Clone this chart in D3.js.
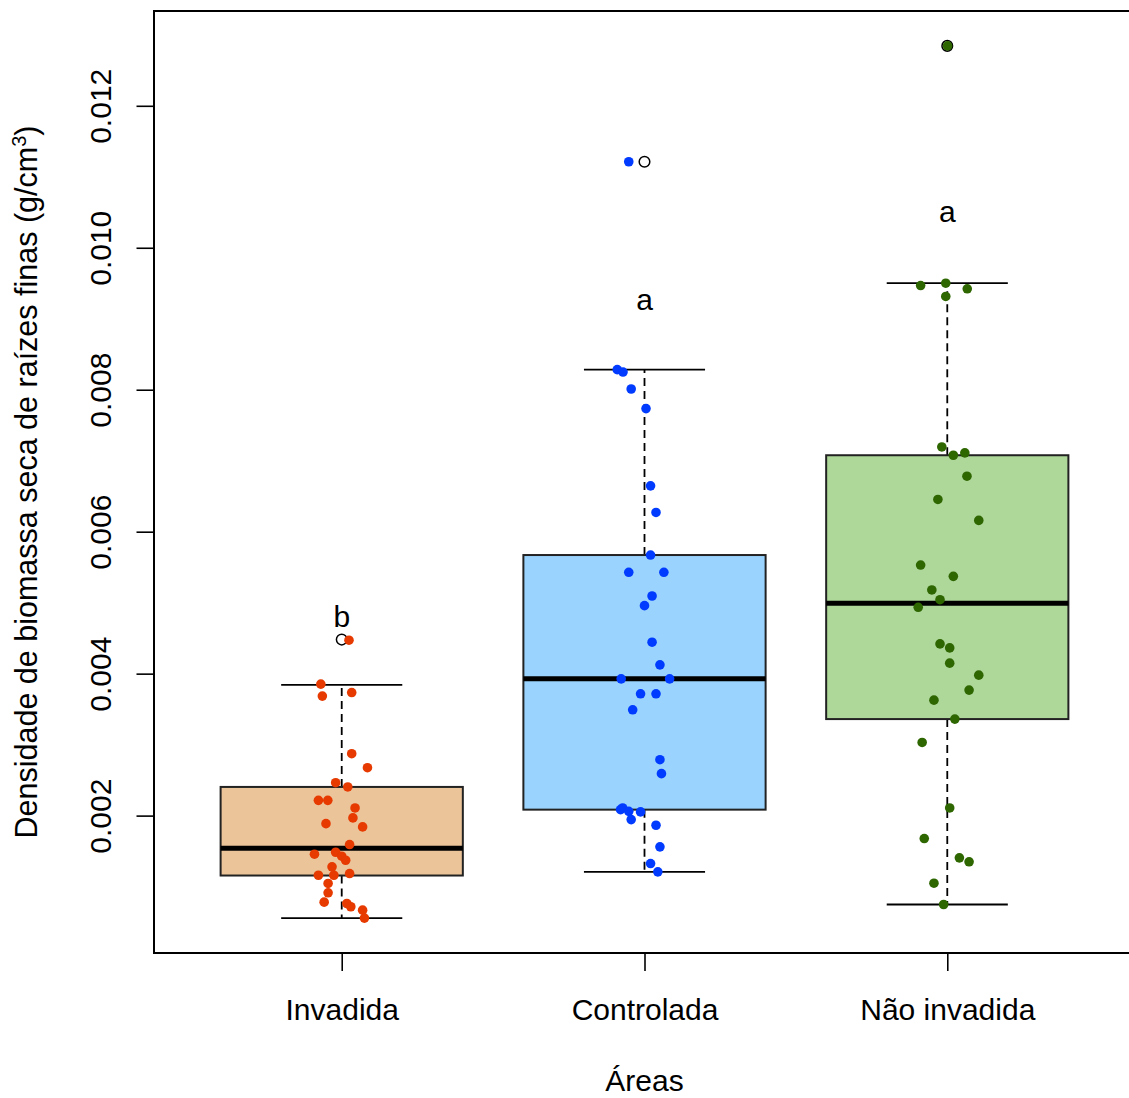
<!DOCTYPE html>
<html>
    <head>
        <meta charset="utf-8">
        <title>Densidade de biomassa seca de raízes finas</title>
        <script src="https://d3js.org/d3.v7.min.js"></script>
    </head>
    <style>
        body {
            margin: 0;
            background-color: #ffffff;
            font-family: "Liberation Sans", Arial, sans-serif;
        }
        .axis path {
            display: none;
        }
        .axis line {
            stroke: #000;
            stroke-width: 1.6px;
        }
        .axis text {
            font-size: 30px;
            fill: #000;
        }
    </style>
    <body>
        <div id="chart"></div>
    </body>
    <script>

        // Categories and labels
        var categories = ["Invadida", "Controlada", "Não invadida"];
        var letters = ["b", "a", "a"];
        var letterY = [0.00466, 0.00912, 0.01036];
        var yTicks = [0.002, 0.004, 0.006, 0.008, 0.010, 0.012];

        // Box statistics: [lower whisker, Q1, median, Q3, upper whisker]
        var boxStats = [
            [0.000556, 0.001156, 0.001540, 0.002404, 0.003842],
            [0.001208, 0.002084, 0.003927, 0.005671, 0.008283],
            [0.000748, 0.003360, 0.004992, 0.007077, 0.009501]
        ];
        var outliers = [[0.004480], [0.011212], [0.012844]];

        // Jittered raw points (value, horizontal jitter in category units)
        var invadidaValues = [0.004471, 0.003852, 0.003684, 0.003734, 0.002872, 0.002675,
            0.002464, 0.002404, 0.002215, 0.002215, 0.002108, 0.001968, 0.001887, 0.001841,
            0.001592, 0.001456, 0.001484, 0.001428, 0.001371, 0.001278, 0.001160, 0.001160,
            0.001184, 0.001044, 0.000913, 0.000781, 0.000762, 0.000716, 0.000668, 0.000556];
        var invadidaJitter = [0.024, -0.069, -0.064, 0.033, 0.033, 0.085,
            -0.020, 0.020, -0.077, -0.046, 0.044, 0.037, -0.052, 0.069,
            0.026, -0.090, -0.020, 0.000, 0.013, -0.032, -0.077, -0.026,
            0.026, -0.045, -0.045, -0.058, 0.017, 0.030, 0.069, 0.075];

        var controladaValues = [0.011212, 0.008283, 0.008249, 0.008010, 0.007734, 0.006646,
            0.006271, 0.005671, 0.005428, 0.005428, 0.005094, 0.004958, 0.004443, 0.004124,
            0.003927, 0.003927, 0.003716, 0.003716, 0.003491, 0.002788, 0.002591, 0.002108,
            0.002084, 0.002060, 0.002052, 0.001944, 0.001864, 0.001560, 0.001325, 0.001208];
        var controladaJitter = [-0.052, -0.090, -0.071, -0.044, 0.005, 0.020,
            0.038, 0.020, -0.052, 0.064, 0.025, 0.000, 0.025, 0.051,
            -0.077, 0.083, -0.013, 0.038, -0.039, 0.051, 0.056, -0.072,
            -0.079, -0.052, -0.013, -0.044, 0.038, 0.051, 0.020, 0.044];

        var naoInvadidaValues = [0.012844, 0.009468, 0.009501, 0.009422, 0.009314, 0.007194,
            0.007077, 0.007110, 0.006782, 0.006454, 0.006159, 0.005530, 0.005371, 0.005179,
            0.005042, 0.004935, 0.004419, 0.004363, 0.004148, 0.003979, 0.003768, 0.003627,
            0.003360, 0.003031, 0.002108, 0.001677, 0.001405, 0.001349, 0.001048, 0.000748];
        var naoInvadidaJitter = [0.001, -0.088, -0.005, 0.066, -0.005, -0.018,
            0.020, 0.058, 0.065, -0.031, 0.104, -0.088, 0.020, -0.051,
            -0.024, -0.096, -0.024, 0.008, 0.008, 0.104, 0.072, -0.044,
            0.025, -0.083, 0.008, -0.076, 0.040, 0.072, -0.044, -0.012];

        var groupValues = [invadidaValues, controladaValues, naoInvadidaValues];
        var groupJitter = [invadidaJitter, controladaJitter, naoInvadidaJitter];

        var boxColors = ["#ECC49A", "#9AD4FE", "#AED79A"];
        var pointColors = ["#E63A00", "#003BFF", "#2E6600"];

        // Build point table
        var points = [];
        groupValues.forEach(function(vals, g) {
            vals.forEach(function(v, i) {
                points.push({group: g, x: g + 1 + groupJitter[g][i], value: v});
            });
        });

        // Chart geometry
        var W = 1129, H = 1098;
        var margin = {top: 11, left: 154, bottom: 145, right: -6};
        var width = W - margin.left - margin.right,
            height = H - margin.top - margin.bottom;

        // Scales (R style 4% padding on the data range)
        var allVals = d3.merge(groupValues);
        var lo = d3.min(allVals), hi = d3.max(allVals), pad = (hi - lo) * 0.04;
        var y = d3.scaleLinear().domain([lo - pad, hi + pad]).range([height, 0]);
        var x = d3.scaleLinear().domain([0.38, 3.62]).range([0, width]);
        var boxW = 0.8, capW = 0.4;

        var svg = d3.select("#chart")
            .append("svg")
                .attr("width", W)
                .attr("height", H);
        var chart = svg.append("g")
            .attr("transform", "translate(" + margin.left + "," + margin.top + ")");

        // Boxes
        var box = chart.selectAll("g.box")
            .data(boxStats)
            .enter().append("g")
                .attr("class", "box");

        box.append("line")
            .attr("x1", function(d, i) { return x(i + 1); })
            .attr("x2", function(d, i) { return x(i + 1); })
            .attr("y1", function(d) { return y(d[3]); })
            .attr("y2", function(d) { return y(d[4]); })
            .attr("stroke", "#000").attr("stroke-width", 1.8)
            .attr("stroke-dasharray", "8,5");
        box.append("line")
            .attr("x1", function(d, i) { return x(i + 1); })
            .attr("x2", function(d, i) { return x(i + 1); })
            .attr("y1", function(d) { return y(d[1]); })
            .attr("y2", function(d) { return y(d[0]); })
            .attr("stroke", "#000").attr("stroke-width", 1.8)
            .attr("stroke-dasharray", "8,5");

        [0, 4].forEach(function(k) {
            box.append("line")
                .attr("x1", function(d, i) { return x(i + 1 - capW / 2); })
                .attr("x2", function(d, i) { return x(i + 1 + capW / 2); })
                .attr("y1", function(d) { return y(d[k]); })
                .attr("y2", function(d) { return y(d[k]); })
                .attr("stroke", "#000").attr("stroke-width", 1.8);
        });

        box.append("rect")
            .attr("x", function(d, i) { return x(i + 1 - boxW / 2); })
            .attr("width", function(d, i) { return x(i + 1 + boxW / 2) - x(i + 1 - boxW / 2); })
            .attr("y", function(d) { return y(d[3]); })
            .attr("height", function(d) { return y(d[1]) - y(d[3]); })
            .attr("fill", function(d, i) { return boxColors[i]; })
            .attr("stroke", "#222").attr("stroke-width", 2);

        box.append("line")
            .attr("x1", function(d, i) { return x(i + 1 - boxW / 2); })
            .attr("x2", function(d, i) { return x(i + 1 + boxW / 2); })
            .attr("y1", function(d) { return y(d[2]); })
            .attr("y2", function(d) { return y(d[2]); })
            .attr("stroke", "#000").attr("stroke-width", 5);

        // Outliers (open circles)
        outliers.forEach(function(list, g) {
            chart.selectAll(null)
                .data(list)
                .enter().append("circle")
                    .attr("cx", x(g + 1))
                    .attr("cy", function(d) { return y(d); })
                    .attr("r", 5.3)
                    .attr("fill", "none")
                    .attr("stroke", "#000")
                    .attr("stroke-width", 1.5);
        });

        // Jittered points
        chart.selectAll("circle.pt")
            .data(points)
            .enter().append("circle")
                .attr("class", "pt")
                .attr("cx", function(d) { return x(d.x); })
                .attr("cy", function(d) { return y(d.value); })
                .attr("r", 4.8)
                .attr("fill", function(d) { return pointColors[d.group]; });

        // Significance letters
        chart.selectAll("text.letter")
            .data(letters)
            .enter().append("text")
                .attr("class", "letter")
                .attr("x", function(d, i) { return x(i + 1); })
                .attr("y", function(d, i) { return y(letterY[i]); })
                .attr("text-anchor", "middle")
                .attr("font-size", 30)
                .text(function(d) { return d; });

        // Axes
        var yAxis = d3.axisLeft(y)
            .tickValues(yTicks)
            .tickSize(17.5)
            .tickFormat(d3.format(".3f"));
        chart.append("g")
            .attr("class", "y axis")
            .call(yAxis)
            .selectAll("text")
                .attr("x", null).attr("dy", null)
                .attr("text-anchor", "middle")
                .attr("transform", "translate(-43,0) rotate(-90)");

        var xAxis = d3.axisBottom(x)
            .tickValues([1, 2, 3])
            .tickSize(18)
            .tickPadding(0)
            .tickFormat(function(d) { return categories[d - 1]; });
        chart.append("g")
            .attr("class", "x axis")
            .attr("transform", "translate(0," + height + ")")
            .call(xAxis)
            .selectAll("text")
                .attr("dy", null)
                .attr("y", 67);

        // Frame
        chart.append("rect")
            .attr("width", width)
            .attr("height", height)
            .attr("fill", "none")
            .attr("stroke", "#000")
            .attr("stroke-width", 2);

        // Axis titles
        svg.append("text")
            .attr("x", margin.left + width / 2)
            .attr("y", 1091)
            .attr("text-anchor", "middle")
            .attr("font-size", 30)
            .text("Áreas");

        var yTitle = svg.append("text")
            .attr("transform", "translate(37," + (margin.top + height / 2) + ") rotate(-90)")
            .attr("text-anchor", "middle")
            .attr("font-size", 30.5);
        yTitle.append("tspan").text("Densidade de biomassa seca de raízes finas (g/cm");
        yTitle.append("tspan").attr("font-size", 20).attr("dy", "-0.55em").text("3");
        yTitle.append("tspan").attr("dy", "0.37em").text(")");

    </script>
</html>
